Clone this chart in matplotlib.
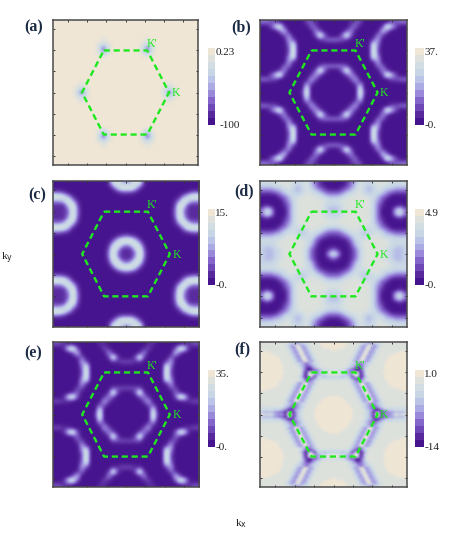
import numpy as np
import matplotlib
matplotlib.use("Agg")
import matplotlib.pyplot as plt
from matplotlib.colors import LinearSegmentedColormap

plt.rcParams["font.family"] = ["Liberation Serif", "DejaVu Serif"]

W, H = 463, 533

# heat maps on a coarse grid, 0 = darkest step, 9 = cream.
# each map is left/right and up/down symmetric, so only the top-left quarter is typed
# (rows run top edge -> centre, columns left edge -> centre, spaces are ignored)
GRID_A = [
    "99999999999999999", "99999999999999999", "99999999999999999", "99999999999999999",
    "99999999999899999", "99999999998789999", "99999999997179999", "99999999998589999",
    "99999999999999999", "99999999999999999", "99999999999999999", "99999999999999999",
    "99999999999999999", "99999999999999999", "99999989999999999", "99999878999999999",
    "99999717999999999",
]
GRID_B = [
    "33220000002210000", "00269100000320000", "00003600000042000", "00000240000029300",
    "00000052000001233", "00000038000000000", "00000029000000000", "00000029000000000",
    "00000048000000000", "00000051000000000", "00000330000002333", "00002400000029300",
    "00269100000152000", "33220000000520000", "00000000004200000", "00000000008000000",
    "00000000019000000",
]
GRID_C = [
    "00000000000017854", "00000000000002699", "22100000000000122", "99741000000000000",
    "44694100000000000", "11169200000000000", "11139300000000000", "11139300000000000",
    "11159200000000000", "33595100000000000", "99951000000000000", "33210000000000000",
    "00000000000000123", "00000000000002699", "00000000000016953", "00000000000029511",
    "00000000000039311",
]
GRID_D = [
    "77778887678531000", "55566786568642100", "22234676568765322", "00002357788887655",
    "00000246888888877", "01000136888888766", "37500036888888755", "37500036888888766",
    "01000136888888877", "00000246888888888", "00002357778888766", "22234677656876433",
    "55566788767753211", "77778888887631000", "66678888887520000", "65567888886310013",
    "65567888886310058",
]
GRID_E = [
    "22110000001100000", "00179200000210000", "00002600000041000", "00000130000019200",
    "00000052000001122", "00000038000000000", "00000029000000000", "00000029000000000",
    "00000048000000000", "00000051000000000", "00000220000002222", "00001300000019200",
    "00179200000142000", "22110000000520000", "00000000003200000", "00000000008000000",
    "00000000019000000",
]
# finer grid for (f), its lines are too thin for the coarse one
GRID_F = [
    "888888888888 776545677 88888 9999999",
    "8888888888 8765469645678 8888 999999",
    "88888888888 875448954578 88888 99999",
    "88888888888 8765469645678 8888888 99",
    "9999 88888888 875448954578 888888888",
    "999999 888888 8765469645678 88888888",
    "99999999 88888 875448954578 88888888",
    "999999999 8888 8765469645678 8888888",
    "999999999 88888 875448954578 8888888",
    "9999999999 88888 77654345677 8888888",
    "9999999999 888888 7654334567 8888888",
    "9999999999 8888888 7642124567 888888",
    "9999999999 88888888 64200234567 7777",
    "99999999999 8888888 631587345677 899",
    "9999999999 88888888 631698445677 888",
    "9999999999 8888888 7521573266656666",
    "9999999999 8888888 7642123567777777",
    "999999999 88888888 7653345678888888",
    "99999999 888888 875448954578 8888888",
    "99999999 88888 8765469645678 8888888",
    "999999 8888888 875448954578 88888888",
    "999 888888888 8765469645678 88888888",
    "888888888888 875448954578 888888888",
    "88888888888 8765469645678 888888888",
    "88888888888 875448954578 8888888 999",
    "8888888888 8765469645678 88888 99999",
    "8888888888 875448954578 88888 999999",
    "8888888888 77654445677 88888 9999999",
    "8888888888 76543345678 8888 99999999",
    "777777777 76543234567 88888 99999999",
    "777777666 54310245678 8888 999999999",
    "65555544332 156135678 8888 999999999",
    "79779754443 289235778 8888 999999999",
]

HEX_X = [-0.30, 0.30, 0.60, 0.30, -0.30, -0.60, -0.30]
HEX_Y = [0.58, 0.58, 0.0, -0.58, -0.58, 0.0, 0.58]
X_TICKS = [-0.79, -0.53, -0.265, 0, 0.265, 0.53, 0.79]
Y_TICKS = [-0.88, -0.58, -0.29, 0, 0.29, 0.58, 0.88]

PANEL_NAMES = ["(a)", "(b)", "(c)", "(d)", "(e)", "(f)"]
CBAR_TOP = ["0.23", "37.", "15.", "4.9", "35.", "1.0"]
CBAR_BOTTOM = ["-100", "-0.", "-0.", "-0.", "-0.", "-14"]
GRIDS = [GRID_A, GRID_B, GRID_C, GRID_D, GRID_E, GRID_F]

# pixel boxes: left, top, right, bottom
BOXES = [(53, 20, 198, 165), (260, 20, 407, 165), (53, 181, 199, 327),
         (260, 181, 407, 327), (53, 342, 199, 487), (260, 342, 407, 487)]
CBARS = [(208, 48, 215, 125), (415, 48, 424, 125), (208, 209, 215, 285),
         (415, 209, 424, 285), (208, 370, 215, 447), (415, 370, 424, 447)]
NAME_POS = [(24, 27), (231, 27), (28, 195), (234, 191), (24, 353), (234, 349)]

COLORS = ["#46148E", "#5A2CA0", "#7450BC", "#8C70D0", "#A499E0", "#B5BAE6",
          "#C6D3E6", "#CFDCE4", "#DDE1DD", "#EFE6D5"]
CMAP = LinearSegmentedColormap.from_list("purple_cream", COLORS, N=256)
GREEN = "#1FE81F"


def quarter_to_full(rows):
    q = np.array([[int(c) for c in r.replace(" ", "")] for r in rows], dtype=float)
    top = np.hstack([q, q[:, -2::-1]])
    return np.vstack([top, top[-2::-1]]) / 9.0


def px_axes(fig, box):
    l, t, r, b = box
    return fig.add_axes([l / W, 1 - b / H, (r - l) / W, (b - t) / H])


fig = plt.figure(figsize=(W / 100, H / 100), dpi=100, facecolor="white")

for k, grid in enumerate(GRIDS):
    ax = px_axes(fig, BOXES[k])
    ax.imshow(quarter_to_full(grid), cmap=CMAP, vmin=0, vmax=1, extent=(-1, 1, -1, 1),
              interpolation="bicubic", aspect="auto")
    ax.plot(HEX_X, HEX_Y, color=GREEN, lw=1.7, dashes=(2.6, 1.6))
    ax.text(0.36, 0.665, "K'", color=GREEN, fontsize=8.5, ha="center", va="center")
    ax.text(0.69, -0.01, "K", color=GREEN, fontsize=8.5, ha="center", va="center")
    ax.set_xlim(-1, 1)
    ax.set_ylim(-1, 1)
    ax.set_xticks(X_TICKS)
    ax.set_yticks(Y_TICKS)
    ax.tick_params(direction="in", length=1.5, width=0.7, top=True, right=True,
                   labelbottom=False, labelleft=False, color="#333333")
    for s in ax.spines.values():
        s.set_color("#4a4a4a")
        s.set_linewidth(1.1)

    cax = px_axes(fig, CBARS[k])
    cax.imshow(np.linspace(1, 0, 11).reshape(-1, 1), cmap=CMAP, vmin=0, vmax=1,
               aspect="auto", interpolation="nearest")
    cax.axis("off")
    cax.text(1.05, 0.94, CBAR_TOP[k], transform=cax.transAxes, fontsize=8,
             ha="left", va="center", color="#222222")
    cax.text(1.05 if k else 1.7, 0.0, CBAR_BOTTOM[k], transform=cax.transAxes, fontsize=8,
             ha="left", va="center", color="#222222")

    x, y = NAME_POS[k]
    fig.text(x / W, 1 - y / H, PANEL_NAMES[k], fontsize=11.5, fontweight="bold",
             color="#1c2b44", ha="left", va="center")

fig.text(1 / W, 1 - 258 / H, r"k$_{\mathrm{y}}$", fontsize=8, color="#222222", ha="left", va="center")
fig.text(235 / W, 1 - 524 / H, r"k$_{\mathrm{x}}$", fontsize=8, color="#222222", ha="left", va="center")

fig.savefig("out.png", dpi=100, facecolor="white")
